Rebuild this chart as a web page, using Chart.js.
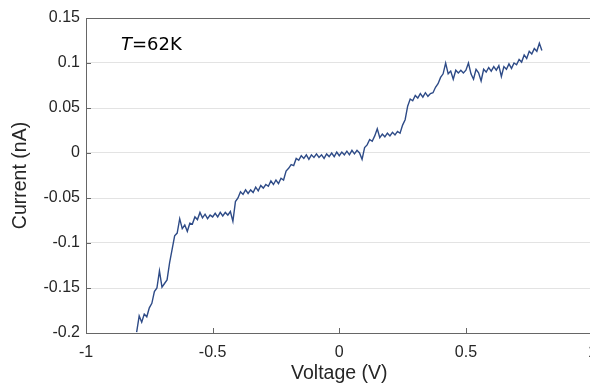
<!DOCTYPE html>
<html>
<head>
<meta charset="utf-8">
<script src="https://cdn.jsdelivr.net/npm/chart.js@4/dist/chart.umd.min.js"></script>
<style>
  html, body { margin: 0; padding: 0; background: #fff; overflow: hidden; }
  #wrap { width: 607px; height: 383px; }
</style>
</head>
<body>
<div id="wrap"><canvas id="myChart" width="607" height="383"></canvas></div>
<script>
// voltage sweep (V)
const voltage = [
  -0.80, -0.79, -0.78, -0.77, -0.76, -0.75, -0.74, -0.73, -0.72, -0.71,
  -0.70, -0.69, -0.68, -0.67, -0.66, -0.65, -0.64, -0.63, -0.62, -0.61,
  -0.60, -0.59, -0.58, -0.57, -0.56, -0.55, -0.54, -0.53, -0.52, -0.51,
  -0.50, -0.49, -0.48, -0.47, -0.46, -0.45, -0.44, -0.43, -0.42, -0.41,
  -0.40, -0.39, -0.38, -0.37, -0.36, -0.35, -0.34, -0.33, -0.32, -0.31,
  -0.30, -0.29, -0.28, -0.27, -0.26, -0.25, -0.24, -0.23, -0.22, -0.21,
  -0.20, -0.19, -0.18, -0.17, -0.16, -0.15, -0.14, -0.13, -0.12, -0.11,
  -0.10, -0.09, -0.08, -0.07, -0.06, -0.05, -0.04, -0.03, -0.02, -0.01,
  0.00, 0.01, 0.02, 0.03, 0.04, 0.05, 0.06, 0.07, 0.08, 0.09,
  0.10, 0.11, 0.12, 0.13, 0.14, 0.15, 0.16, 0.17, 0.18, 0.19,
  0.20, 0.21, 0.22, 0.23, 0.24, 0.25, 0.26, 0.27, 0.28, 0.29,
  0.30, 0.31, 0.32, 0.33, 0.34, 0.35, 0.36, 0.37, 0.38, 0.39,
  0.40, 0.41, 0.42, 0.43, 0.44, 0.45, 0.46, 0.47, 0.48, 0.49,
  0.50, 0.51, 0.52, 0.53, 0.54, 0.55, 0.56, 0.57, 0.58, 0.59,
  0.60, 0.61, 0.62, 0.63, 0.64, 0.65, 0.66, 0.67, 0.68, 0.69,
  0.70, 0.71, 0.72, 0.73, 0.74, 0.75, 0.76, 0.77, 0.78, 0.79,
  0.80
]

const current = [
  -0.199, -0.181, -0.188, -0.179, -0.182, -0.172, -0.167, -0.154, -0.150, -0.131,
  -0.149, -0.145, -0.141, -0.122, -0.107, -0.092, -0.089, -0.073, -0.084, -0.080,
  -0.087, -0.078, -0.079, -0.071, -0.074, -0.066, -0.072, -0.068, -0.073, -0.069,
  -0.071, -0.067, -0.071, -0.066, -0.070, -0.066, -0.069, -0.065, -0.076, -0.054,
  -0.050, -0.043, -0.046, -0.041, -0.045, -0.041, -0.044, -0.038, -0.042, -0.036,
  -0.039, -0.035, -0.037, -0.031, -0.035, -0.030, -0.034, -0.028, -0.030, -0.020,
  -0.017, -0.013, -0.014, -0.006, -0.008, -0.003, -0.006, -0.002, -0.007, -0.002,
  -0.005, -0.001, -0.005, -0.002, -0.006, -0.001, -0.004, 0.000, -0.004, 0.001,
  -0.003, 0.001, -0.002, 0.002, -0.002, 0.003, -0.001, 0.003, 0.000, -0.007,
  0.006, 0.009, 0.015, 0.013, 0.019, 0.027, 0.017, 0.021, 0.018, 0.022,
  0.019, 0.023, 0.020, 0.024, 0.022, 0.031, 0.037, 0.052, 0.060, 0.058,
  0.064, 0.061, 0.066, 0.062, 0.067, 0.063, 0.066, 0.067, 0.073, 0.077,
  0.084, 0.088, 0.100, 0.088, 0.091, 0.082, 0.092, 0.089, 0.092, 0.089,
  0.092, 0.100, 0.088, 0.082, 0.093, 0.089, 0.080, 0.093, 0.090, 0.095,
  0.091, 0.096, 0.092, 0.097, 0.085, 0.096, 0.093, 0.099, 0.094, 0.100,
  0.098, 0.104, 0.101, 0.109, 0.105, 0.113, 0.110, 0.116, 0.113, 0.122,
  0.114
]

const xTicks = [-1, -0.5, 0, 0.5, 1]
const yTicks = [-0.2, -0.15, -0.1, -0.05, 0, 0.05, 0.1, 0.15]

const axisColor = '#666666'
const textColor = '#262626'

// frame on top, inward tick marks and the T=62K note
const framePlugin = {
  id: 'frame',
  afterDraw(chart) {
    const { ctx, chartArea: a, scales } = chart
    ctx.save()
    ctx.strokeStyle = axisColor
    ctx.lineWidth = 1
    ctx.beginPath()
    ctx.moveTo(a.left, a.top + 0.5)
    ctx.lineTo(a.right, a.top + 0.5)
    xTicks.forEach(v => {
      const x = Math.round(scales.x.getPixelForValue(v)) + 0.5
      ctx.moveTo(x, a.bottom)
      ctx.lineTo(x, a.bottom - 5)
    })
    yTicks.forEach(v => {
      const y = Math.round(scales.y.getPixelForValue(v)) + 0.5
      ctx.moveTo(a.left, y)
      ctx.lineTo(a.left + 5, y)
    })
    ctx.stroke()

    ctx.fillStyle = '#000'
    ctx.textBaseline = 'middle'
    ctx.font = 'italic 18px "DejaVu Sans"'
    ctx.fillText('T', 121, 45)
    const w = ctx.measureText('T').width
    ctx.font = '18px "DejaVu Sans"'
    ctx.fillText('=62K', 121 + w, 45)
    ctx.restore()
  }
}

const ctx = document.getElementById('myChart').getContext('2d')

const config = {
  type: 'line',
  data: {
    datasets: [{
      data: voltage.map((v, i) => ({ x: v, y: current[i] })),
      borderColor: '#2e4b87',
      borderWidth: 1.4,
      pointRadius: 0,
      fill: false,
      tension: 0
    }]
  },
  options: {
    responsive: false,
    animation: false,
    layout: { padding: { top: 18, right: 8, left: 0, bottom: 0 } },
    plugins: { legend: { display: false }, tooltip: { enabled: false } },
    scales: {
      x: {
        type: 'linear',
        min: -1,
        max: 1,
        afterBuildTicks: s => { s.ticks = xTicks.map(v => ({ value: v })) },
        afterFit: s => { s.height = 50 },
        grid: { color: 'transparent', drawTicks: false },
        border: { display: true, color: axisColor, width: 1 },
        ticks: {
          padding: 10,
          color: textColor,
          font: { family: 'Liberation Sans', size: 16 },
          maxRotation: 0,
          callback: v => String(v)
        },
        title: {
          display: true,
          text: 'Voltage (V)',
          color: textColor,
          padding: { top: 0, bottom: -2 },
          font: { family: 'Liberation Sans', size: 19.5 }
        }
      },
      y: {
        min: -0.2,
        max: 0.15,
        afterBuildTicks: s => { s.ticks = yTicks.map(v => ({ value: v })) },
        afterFit: s => { s.width = 86 },
        grid: {
          color: c => (c.tick && Math.abs(c.tick.value - 0.15) < 1e-9) ? axisColor : '#e3e3e3',
          drawTicks: false
        },
        border: { display: true, color: axisColor, width: 1 },
        ticks: {
          padding: 6,
          color: textColor,
          font: { family: 'Liberation Sans', size: 16 },
          callback: v => String(Math.round(v * 100) / 100)
        },
        title: {
          display: true,
          text: 'Current (nA)',
          color: textColor,
          padding: { top: 9, bottom: 0 },
          font: { family: 'Liberation Sans', size: 19.5 }
        }
      }
    }
  },
  plugins: [framePlugin]
}

const myChart = new Chart(ctx, config)
</script>
</body>
</html>
